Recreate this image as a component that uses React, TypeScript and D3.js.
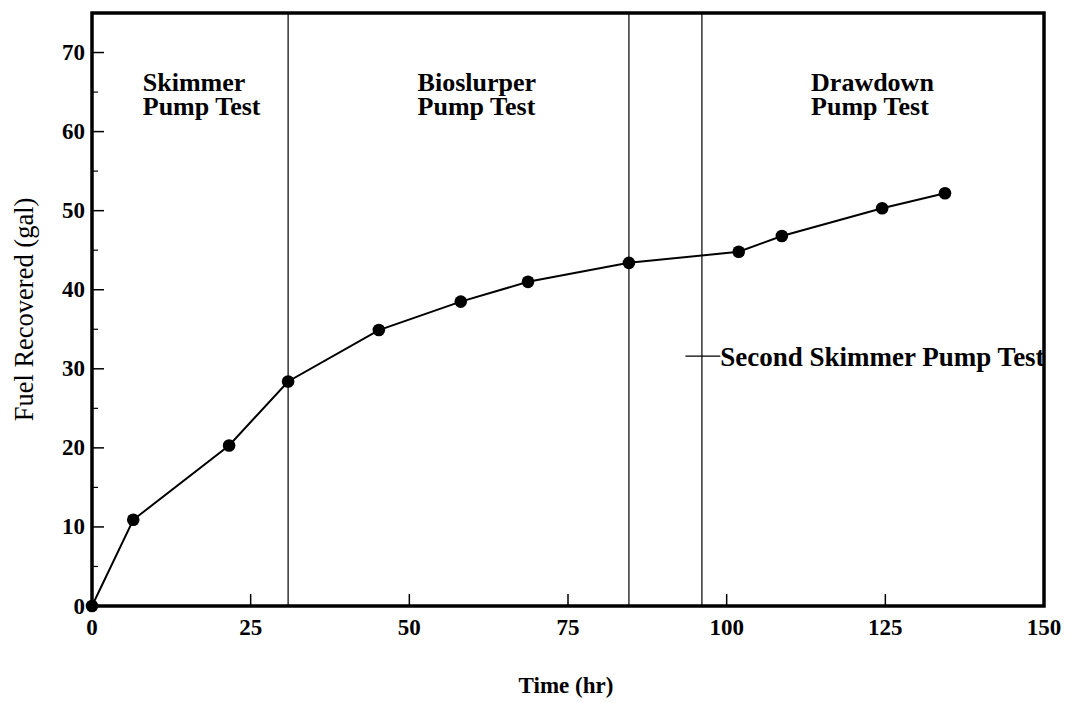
import React from "react";
import * as d3 from "d3";

const hours = [0, 6.5, 21.6, 30.9, 45.2, 58.1, 68.7, 84.6, 101.9, 108.7, 124.5, 134.4];
const gallons = [0, 10.9, 20.3, 28.4, 34.9, 38.5, 41.0, 43.4, 44.8, 46.8, 50.3, 52.2];
const phaseBoundaries = [30.9, 84.6, 96.1];
const xTicks = [0, 25, 50, 75, 100, 125, 150];
const yTicks = [0, 10, 20, 30, 40, 50, 60, 70];
const yMinorTicks = [5, 15, 25, 35, 45, 55, 65];
const phaseLabels = [
  { x: 8.0, lines: ["Skimmer", "Pump Test"] },
  { x: 51.3, lines: ["Bioslurper", "Pump Test"] },
  { x: 113.3, lines: ["Drawdown", "Pump Test"] },
];
const secondLabel = { x0: 93.5, x1: 99.0, y: 31.6, text: "Second Skimmer Pump Test" };

const W = 1070;
const H = 703;
const L = 92, R = 1044, T = 13, B = 606;
const FONT = "'Liberation Serif', 'Times New Roman', serif";

export default function App() {
  const x = d3.scaleLinear().domain([0, 150]).range([L, R]);
  const y = d3.scaleLinear().domain([0, 75]).range([B, T]);
  const data = hours.map((h, i) => [h, gallons[i]] as [number, number]);
  const line = d3.line<[number, number]>().x((d) => x(d[0])).y((d) => y(d[1]));

  return (
    <svg width={W} height={H} style={{ position: "absolute", left: 0, top: 0, background: "#fff" }} fontFamily={FONT}>
      <rect x={0} y={0} width={W} height={H} fill="#fff" />
      {phaseBoundaries.map((b, i) => (
        <line key={i} x1={x(b)} x2={x(b)} y1={T} y2={B} stroke="#000" strokeWidth={1.2} />
      ))}
      {xTicks.map((t) => (
        <g key={"xt" + t}>
          {t > 0 && t < 150 && <line x1={x(t)} x2={x(t)} y1={B} y2={B - 12} stroke="#000" strokeWidth={1.5} />}
          <text x={x(t)} y={635} textAnchor="middle" fontSize={23} fontWeight="bold">{t}</text>
        </g>
      ))}
      {yTicks.map((t) => (
        <g key={"yt" + t}>
          {t > 0 && <line x1={L} x2={L + 12} y1={y(t)} y2={y(t)} stroke="#000" strokeWidth={1.5} />}
          <text x={85} y={y(t) + 7.5} textAnchor="end" fontSize={23} fontWeight="bold">{t}</text>
        </g>
      ))}
      {yMinorTicks.map((t) => (
        <line key={"ym" + t} x1={L} x2={L + 6} y1={y(t)} y2={y(t)} stroke="#000" strokeWidth={1.2} />
      ))}
      <rect x={L} y={T} width={R - L} height={B - T} fill="none" stroke="#000" strokeWidth={3.5} />
      <path d={line(data) || ""} fill="none" stroke="#000" strokeWidth={2} />
      {data.map((d, i) => (
        <circle key={i} cx={x(d[0])} cy={y(d[1])} r={6.3} fill="#000" />
      ))}
      {phaseLabels.map((p, i) => (
        <text key={i} x={x(p.x)} y={91} fontSize={26} fontWeight="bold">
          {p.lines.map((l, j) => (
            <tspan key={j} x={x(p.x)} dy={j === 0 ? 0 : 24}>{l}</tspan>
          ))}
        </text>
      ))}
      <line x1={x(secondLabel.x0)} x2={x(secondLabel.x1)} y1={y(secondLabel.y)} y2={y(secondLabel.y)} stroke="#000" strokeWidth={1.2} />
      <text x={x(secondLabel.x1)} y={y(secondLabel.y) + 10} fontSize={27} fontWeight="bold">{secondLabel.text}</text>
      <text x={(L + R) / 2 - 2} y={693} textAnchor="middle" fontSize={23} fontWeight="bold">Time (hr)</text>
      <text transform={`translate(33, ${(T + B) / 2}) rotate(-90)`} textAnchor="middle" fontSize={26.5}>Fuel Recovered (gal)</text>
    </svg>
  );
}
